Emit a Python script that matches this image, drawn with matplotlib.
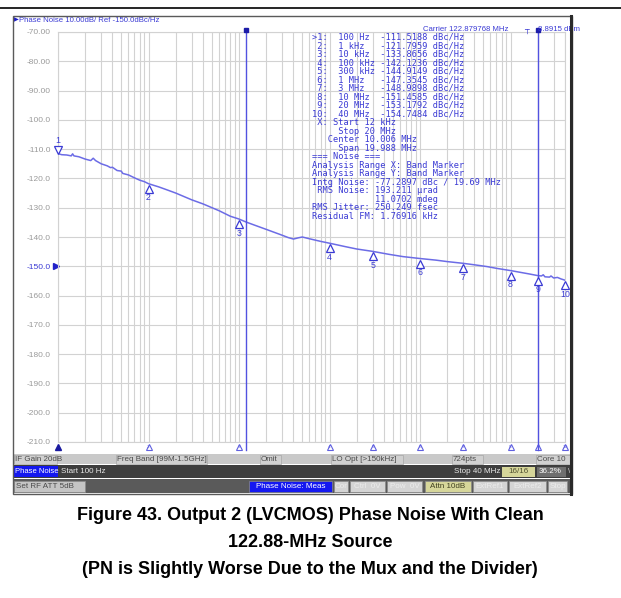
import matplotlib
matplotlib.use('Agg')
import matplotlib.pyplot as plt
import matplotlib.transforms as mtransforms
from matplotlib.patches import Rectangle
from matplotlib.lines import Line2D

# measured trace (offset frequency in Hz, phase noise in dBc/Hz)
trace_f = [100, 110, 125, 140, 145, 150, 170, 200, 230, 245, 260, 300, 350, 380, 400,
           450, 500, 520, 600, 700, 800, 900, 1e3, 1.3e3, 1.6e3, 2e3, 3e3, 4e3, 6e3,
           8e3, 10e3, 12e3, 15e3, 20e3, 25e3, 30e3, 35e3, 40e3, 45e3, 50e3, 60e3,
           80e3, 100e3, 150e3, 200e3, 300e3, 450e3, 650e3, 1e6, 1.5e6, 2e6, 3e6,
           4e6, 5.5e6, 7e6, 10e6, 13e6, 16e6, 20e6, 22e6, 23e6, 24e6, 27e6, 28e6,
           30e6, 33e6, 36e6, 40e6]
trace_v = [-111.52, -111.9, -112.0, -112.3, -111.6, -112.3, -112.6, -113.4, -113.9,
           -113.1, -113.9, -115.0, -115.7, -116.3, -116.2, -117.3, -117.5, -118.3,
           -118.8, -119.8, -120.6, -121.1, -121.80, -122.9, -123.9, -125.0, -127.3,
           -128.7, -131.0, -132.9, -133.87, -134.9, -136.0, -137.4, -138.5, -139.4,
           -140.2, -140.7, -140.3, -140.0, -140.6, -141.5, -142.12, -143.3, -144.1,
           -144.91, -145.9, -146.7, -147.35, -147.9, -148.4, -148.99, -149.5, -150.1,
           -150.7, -151.46, -152.1, -152.6, -153.18, -153.3, -152.9, -153.6, -153.7,
           -153.3, -154.0, -153.8, -154.3, -154.75]

# marker table
mk_f = [100, 1e3, 10e3, 100e3, 300e3, 1e6, 3e6, 10e6, 20e6, 40e6]
mk_lbl = ['100 Hz', '1 kHz', '10 kHz', '100 kHz', '300 kHz', '1 MHz', '3 MHz',
          '10 MHz', '20 MHz', '40 MHz']
mk_v = [-111.5188, -121.7959, -133.8656, -142.1236, -144.9149, -147.3545,
        -148.9898, -151.4585, -153.1792, -154.7484]

band_f = [12e3, 20e6]

yticks = list(range(-70, -211, -10))
ylabels = ['-70.00', '-80.00', '-90.00'] + ['%.1f' % v for v in yticks[3:]]

noise_lines = [' X: Start 12 kHz',
               '     Stop 20 MHz',
               '   Center 10.006 MHz',
               '     Span 19.988 MHz',
               '=== Noise ===',
               'Analysis Range X: Band Marker',
               'Analysis Range Y: Band Marker',
               'Intg Noise: -77.2897 dBc / 19.69 MHz',
               ' RMS Noise: 193.211 \u00b5rad',
               '            11.0702 mdeg',
               'RMS Jitter: 250.249 fsec',
               'Residual FM: 1.76916 kHz']

caption = ['Figure 43. Output 2 (LVCMOS) Phase Noise With Clean',
           '122.88-MHz Source',
           '(PN is Slightly Worse Due to the Mux and the Divider)']

W, H = 621, 598
BLUE = '#3a3ad4'
TRACE = '#6c6ce6'
GRID = '#d2d2d2'
SCR = 'Liberation Sans'


def fx(x):
    return x / W


def fy(y):
    return 1 - y / H


def box(x0, y0, x1, y1, fc, ec='none', lw=0.0, z=1):
    fig.add_artist(Rectangle((fx(x0), fy(y1)), (x1 - x0) / W, (y1 - y0) / H,
                             transform=fig.transFigure, fc=fc, ec=ec, lw=lw, zorder=z))


def txt(x, y, s, **kw):
    kw.setdefault('family', SCR)
    kw.setdefault('fontsize', 6)
    kw.setdefault('va', 'center')
    fig.text(fx(x), fy(y), s, **kw)


fig = plt.figure(figsize=(6.21, 5.98), dpi=100)

# rule above the instrument screen
fig.add_artist(Line2D([0, 1], [fy(8), fy(8)], transform=fig.transFigure, color='k', lw=1.2))

ax = fig.add_axes([fx(58), fy(442), (565 - 58) / W, (442 - 32) / H])
ax.set_xscale('log')
ax.set_xlim(100, 40e6)
ax.set_ylim(-210, -70)
ax.set_yticks(yticks, labels=ylabels)
ax.grid(True, which='both', color=GRID, lw=0.8)
ax.tick_params(which='both', length=0, labelbottom=False, labelsize=6,
               labelcolor='#9a9a9a', pad=5)
for lab in ax.get_yticklabels():
    lab.set_family(SCR)
    if lab.get_text() == '-150.0':
        lab.set_color(BLUE)
for sp in ax.spines.values():
    sp.set_color(GRID)
    sp.set_linewidth(0.8)

# reference level arrow
ax.plot([0], [-150], '>', color='#2020c8', ms=4, clip_on=False,
        transform=mtransforms.offset_copy(ax.get_yaxis_transform(), fig=fig, x=-2, units='dots'))

# trace
ax.plot(trace_f, trace_v, color=TRACE, lw=1.1, zorder=3)

# band marker lines
bt = ax.get_xaxis_transform()
for f in band_f:
    ax.plot([f, f], [-0.02, 1.006], color='#5252e0', lw=1.0, transform=bt, clip_on=False, zorder=3)
    ax.plot([f], [1.006], marker='s', ms=2.5, color='#1c1ca8', transform=bt, clip_on=False, zorder=4)

# markers on the trace
below = mtransforms.offset_copy(ax.transData, fig=fig, y=-5, units='dots')
ax.plot(mk_f[1:], mk_v[1:], '^', ms=6, mfc='white', mec=BLUE, mew=0.9,
        transform=below, clip_on=False, zorder=4)
above = mtransforms.offset_copy(ax.transData, fig=fig, y=4, units='dots')
ax.plot(mk_f[:1], mk_v[:1], 'v', ms=6, mfc='white', mec=BLUE, mew=0.9,
        transform=above, clip_on=False, zorder=4)
for i, (f, v) in enumerate(zip(mk_f, mk_v)):
    dy = 13 if i == 0 else -14
    ax.annotate(str(i + 1), (f, v), xytext=(0, dy), textcoords='offset pixels',
                ha='center', va='center', fontsize=6.3, color=BLUE, family=SCR,
                annotation_clip=False)

# marker strip under the graticule
strip = mtransforms.offset_copy(bt, fig=fig, y=-5, units='dots')
ax.plot(mk_f[1:], [0] * 9, '^', ms=4.5, mfc='white', mec='#6060e0', mew=0.8,
        transform=strip, clip_on=False)
ax.plot(mk_f[:1], [0], '^', ms=5, color='#1a1aa0', transform=strip, clip_on=False)
for i, f in enumerate(mk_f[1:]):
    ax.annotate(str(i + 2), (f, 0), xycoords=bt, xytext=(0, -5), textcoords='offset pixels',
                ha='center', va='center', fontsize=3.2, color='#6060e0', annotation_clip=False)

# header and carrier readout
txt(14, 20, '\u25b6', color='#2020c8', fontsize=4.5, family='DejaVu Sans')
txt(19, 20.5, 'Phase Noise 10.00dB/ Ref -150.0dBc/Hz', color=BLUE, fontsize=5.6)
txt(423, 29.5, 'Carrier 122.879768 MHz', color=BLUE, fontsize=5.6)
txt(524, 29.5, '\u252c', color=BLUE, fontsize=5.6, family='DejaVu Sans')
txt(538, 29.5, '8.8915 dBm', color=BLUE, fontsize=5.6)

# marker / noise table
rows = []
for i, (lb, v) in enumerate(zip(mk_lbl, mk_v)):
    tag = ('>' if i == 0 else '') + '%d:' % (i + 1)
    rows.append('%3s  %-7s %.4f dBc/Hz' % (tag, lb, v))
rows += noise_lines
for i, r in enumerate(rows):
    txt(312, 37 + 8.55 * i, r, family='DejaVu Sans Mono', fontsize=6.2, color=BLUE)

# status bar 1
box(14, 454, 571, 464, '#c9c9c9')
bar1 = [(15, 56, 'IF Gain 20dB'), (117, 206, 'Freq Band [99M-1.5GHz]'),
        (261, 280, 'Omit'), (332, 402, 'LO Opt [>150kHz]'),
        (453, 482, '724pts'), (537, 569, 'Core 10')]
for x0, x1, s in bar1:
    box(x0 - 1, 455, x1 + 1, 463.5, '#d0d0d0', ec='#a8a8a8', lw=0.5, z=2)
    txt(x0, 459.5, s, color='#4a4a4a', fontsize=5.8, zorder=3)

# status bar 2
box(14, 465, 571, 478, '#3e3e3e')
box(14, 466, 58, 477, '#1418f0', z=2)
txt(15, 471.5, 'Phase Noise', color='white', fontsize=5.5, zorder=3)
txt(61, 471.5, 'Start 100 Hz', color='#e8e8e8', fontsize=5.8, zorder=3)
txt(454, 471.5, 'Stop 40 MHz', color='#e8e8e8', fontsize=5.8, zorder=3)
box(502, 466.5, 535, 476.5, '#d6d69a', z=2)
txt(518.5, 471.5, '16/16', color='#505030', fontsize=5.8, ha='center', zorder=3)
box(537, 466.5, 566, 476.5, '#6e6e6e', z=2)
txt(539, 471.5, '36.2%', color='white', fontsize=5.8, zorder=3)
txt(567.5, 471.5, '\\', color='#d0d0d0', fontsize=5.8, zorder=3)

# status bar 3
box(14, 479, 571, 493, '#5a5a5a')
box(14, 480.5, 85, 491.5, '#c4c4c4', ec='#8a8a8a', lw=0.5, z=2)
txt(16, 486, 'Set RF ATT 5dB', color='#4a4a4a', fontsize=5.8, zorder=3)
keys = [(249, 332, 'Phase Noise: Meas', '#1418f0', 'white'),
        (334, 348, 'Cor', '#d4d4d4', '#ececec'),
        (350, 385, 'Ctrl  0V', '#d4d4d4', '#ececec'),
        (387, 422, 'Pow  0V', '#d4d4d4', '#ececec'),
        (425, 471, 'Attn 10dB', '#d6d69a', '#404020'),
        (473, 507, 'ExtRef1', '#d4d4d4', '#ececec'),
        (509, 546, 'ExtRef2', '#d4d4d4', '#ececec'),
        (548, 567, 'Stop', '#d4d4d4', '#ececec')]
for x0, x1, s, fc, tc in keys:
    box(x0, 480.5, x1, 491.5, fc, ec='#8a8a8a', lw=0.5, z=2)
    txt((x0 + x1) / 2, 486, s, color=tc, fontsize=5.8, ha='center', zorder=3)

# frame
box(13, 16, 572, 494, 'none', ec='#5a5a5a', lw=1.0, z=4)
fig.add_artist(Line2D([fx(571), fx(571)], [fy(16), fy(494)], transform=fig.transFigure,
                      color='#2a2a2a', lw=2.2, zorder=5))

# caption
for i, s in enumerate(caption):
    fig.text(fx(310), fy(516 + 26.5 * i), s, ha='center', va='center', fontsize=13,
             fontweight='bold', family='Liberation Sans')

fig.savefig('out.png', dpi=100, facecolor='white')
